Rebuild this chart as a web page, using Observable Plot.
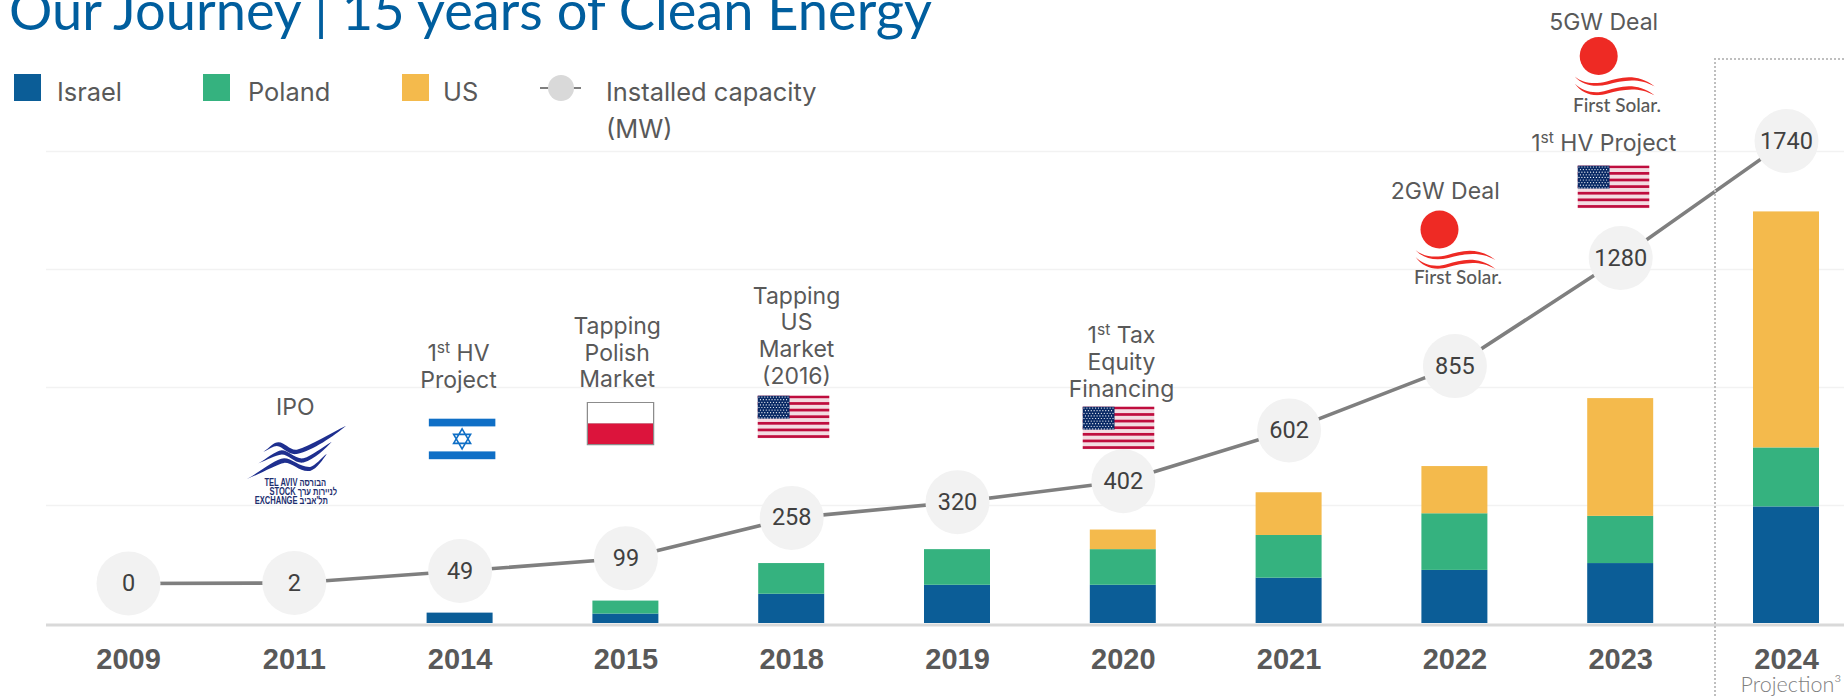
<!DOCTYPE html>
<html>
<head>
<meta charset="utf-8">
<script src="https://cdn.jsdelivr.net/npm/d3@7"></script>
<script src="https://cdn.jsdelivr.net/npm/@observablehq/plot@0.6"></script>
<style>
  html, body { margin: 0; padding: 0; background: #fff; overflow: hidden; }
  #page { position: relative; width: 1844px; height: 697px; overflow: hidden; }
  #title { position: absolute; left: 9px; top: -25px; font: 400 54.2px/70px Lato, sans-serif; color: #005E9E; white-space: nowrap; }
  .leg { position: absolute; font: 400 25.4px/37px Inter, sans-serif; color: #595959; white-space: nowrap; }
  .sw { position: absolute; top: 74px; width: 27px; height: 27px; }
  #projection { position: absolute; left: 1714px; top: 58px; width: 200px; height: 700px; border-left: 2px dotted #BFBFBF; border-top: 2px dotted #BFBFBF; }
  svg { display: block; }
</style>
</head>
<body>
<div id="page">
  <div id="title">Our Journey | 15 years of Clean Energy</div>
  <div class="sw" style="left:14px;background:#0B5D97"></div>
  <div class="leg" style="left:57px;top:73px">Israel</div>
  <div class="sw" style="left:203px;background:#35B27F"></div>
  <div class="leg" style="left:248px;top:73px">Poland</div>
  <div class="sw" style="left:402px;background:#F4BA4C"></div>
  <div class="leg" style="left:443px;top:73px">US</div>
  <div style="position:absolute;left:540px;top:87px;width:41px;height:2px;background:#7F7F7F"></div>
  <div style="position:absolute;left:548px;top:75px;width:26px;height:26px;border-radius:50%;background:#D9D9D9"></div>
  <div class="leg" style="left:606px;top:73px">Installed capacity<br>(MW)</div>
  <div id="projection"></div>
</div>
<script>
const years = ["2009","2011","2014","2015","2018","2019","2020","2021","2022","2023","2024"];
const israel = [0,0,44,40,124,162,162,192,225,254,494];
const poland = [0,0,0,55,130,151,151,181,240,200,250];
const us     = [0,0,0,0,0,0,83,181,200,499,1000];
const capacity = [0,2,49,99,258,320,402,602,855,1280,1740];
const seriesNames = ["Israel","Poland","US"];
const seriesColors = ["#0B5D97","#35B27F","#F4BA4C"];
const gridValues = [500,1000,1500,2000];

const bars = years.flatMap((year,i)=>[
  {year, series:"Israel", value:israel[i]},
  {year, series:"Poland", value:poland[i]},
  {year, series:"US", value:us[i]}
]);
const points = years.map((year,i)=>({year, capacity:capacity[i]}));

// The capacity line is drawn on its own, slightly steeper, axis in the reference.
const lineRatio = 1.0775, lineLift = -40;

const grey = "#595959";
const noteFont = "Inter, sans-serif";
const taseFont = "Liberation Sans, sans-serif";

function svgUri(body, w, h){
  return "data:image/svg+xml;charset=utf-8," + encodeURIComponent(
    `<svg xmlns="http://www.w3.org/2000/svg" viewBox="0 0 ${w} ${h}" width="${w}" height="${h}" preserveAspectRatio="none">${body}</svg>`);
}
function usFlag(){
  let s = `<rect width="72" height="43" fill="#F3DCE2"/>`;
  for (let i=0;i<13;i+=2) s += `<rect y="${i*43/13}" width="72" height="${43/13*0.82}" fill="#BF0D3E"/>`;
  s += `<rect width="32" height="${43*7/13}" fill="#0A2A66"/>`;
  for (let r=0;r<9;r++) for (let c=0;c<(r%2?10:11);c++)
    s += `<circle cx="${1.5+c*2.9+(r%2?1.45:0)}" cy="${1.6+r*2.6}" r="0.62" fill="#fff"/>`;
  return svgUri(s,72,43);
}
function ilFlag(){
  return svgUri(`<rect width="67" height="41" fill="#fff"/><rect y="0" width="67" height="8" fill="#0F6FC6"/><rect y="33" width="67" height="8" fill="#0F6FC6"/>
  <path d="M33.5 10.5 L42 25 L25 25 Z M33.5 30.5 L42 16 L25 16 Z" fill="none" stroke="#0F6FC6" stroke-width="1.6"/>`,67,41);
}
function plFlag(){
  return svgUri(`<rect width="68" height="44" fill="#8C8C8C"/><rect x="1.5" y="1.5" width="65" height="20.5" fill="#fff"/><rect x="1.5" y="22" width="65" height="20.5" fill="#DC143C"/>`,68,44);
}
function firstSolar(){
  const w = "#EE2A24";
  return svgUri(`<circle cx="24" cy="19.5" r="19" fill="${w}"/>
  <path d="M0 40 C8 47 20 48 32 45 C45 41 62 36 80 50 C62 40 46 45 33 48 C20 51 8 49 0 40Z" fill="${w}"/>
  <path d="M0 47 C8 55 20 58 32 54 C45 50 62 45 80 59 C62 49 46 54 33 57 C20 61 8 58 0 47Z" fill="${w}"/>`,80,59);
}
function taseWings(){
  const n = "#1E2F8F";
  return svgUri(`<path d="M50 95 C70 80 80 62 95 62 C115 62 130 92 150 88 C190 75 250 30 298 4 C260 40 200 90 150 103 C125 108 110 78 90 75 C80 75 65 88 50 95Z" fill="${n}"/>
  <path d="M35 135 C60 120 85 92 105 90 C125 90 145 122 170 118 C195 110 225 80 255 60 C235 85 205 120 170 133 C145 138 125 105 105 105 C85 108 60 125 35 135Z" fill="${n}"/>
  <path d="M0 190 C40 165 85 120 112 118 C135 118 160 150 190 148 C205 145 225 115 240 102 C230 120 210 155 190 162 C160 168 135 132 112 134 C90 138 40 172 0 190Z" fill="${n}"/>`,300,192);
}

const FS = 23;
function note(year, text, dx, baseline, opts={}){
  const fs = opts.fontSize ?? FS;
  return Plot.text([year],{
    x:d=>d, text:()=>text, frameAnchor:"top", lineAnchor:"top",
    dx, dy: baseline - 0.71*fs - 2.5, fontSize:fs, lineHeight:opts.lineHeight ?? 1.16,
    fontFamily:opts.fontFamily ?? noteFont, fill:opts.fill ?? grey,
    fontWeight:opts.fontWeight ?? 400, textAnchor:"middle"
  });
}
function icon(year, src, dx, cy, width, height){
  return Plot.image([year],{x:d=>d, src:()=>src, frameAnchor:"top", dx, dy:cy, width, height, preserveAspectRatio:"none"});
}

const taseOpts = {fontSize:10.5, fontWeight:700, fill:"#1E2F6F", fontFamily:taseFont};

const plot = Plot.plot({
  width:1844, height:697,
  marginLeft:46, marginRight:0, marginTop:0, marginBottom:74,
  style:{background:"#fff", overflow:"hidden"},
  x:{type:"band", domain:years, range:[45.1,1868.9], paddingInner:0.602, paddingOuter:0.301, round:false, label:null},
  y:{domain:[0,2000], range:[623,151], axis:null},
  color:{domain:seriesNames, range:seriesColors},
  marks:[
    Plot.ruleY(gridValues,{stroke:"#F2F2F2", strokeWidth:1.5}),
    Plot.barY(bars,{x:"year", y:"value", fill:"series"}),
    Plot.ruleY([0],{stroke:"#D9D9D9", strokeWidth:3, dy:1.5}),
    Plot.line(points,{x:"year", y:d=>d.capacity*lineRatio, stroke:"#7F7F7F", strokeWidth:3.6, dy:lineLift}),
    Plot.dot(points,{x:"year", y:d=>d.capacity*lineRatio, r:32, fill:"#F2F2F2", dy:lineLift}),
    Plot.text(points,{x:"year", y:d=>d.capacity*lineRatio, text:d=>String(d.capacity), dy:lineLift, fontSize:23.5, fontWeight:400, fontFamily:"Roboto, sans-serif", fill:"#404040"}),
    Plot.axisX({anchor:"bottom", tickSize:0, tickPadding:25, fontSize:29, fontWeight:700, fontFamily:"Liberation Sans, sans-serif", fill:grey, label:null}),

    note("2011","IPO",1,414),
    icon("2011",taseWings(),2.5,451.5,100,55),
    note("2011","TEL AVIV הבורסה",1,487,taseOpts),
    note("2011","STOCK לניירות ערך",9,496,taseOpts),
    note("2011","EXCHANGE תל'אביב",-3,505,taseOpts),

    note("2014","1st HV\nProject",-1.6,360.7),
    icon("2014",ilFlag(),2,438.4,67,41),

    note("2015","Tapping\nPolish\nMarket",-8.7,333.5),
    icon("2015",plFlag(),-5.4,423,68,44),

    note("2018","Tapping\nUS\nMarket\n(2016)",4.8,303),
    icon("2018",usFlag(),1.8,416.5,72,43),

    note("2020","1st Tax\nEquity\nFinancing",-1.8,342.7),
    icon("2020",usFlag(),-4.8,427.5,72,43),

    note("2022","2GW Deal",-9.6,198),
    icon("2022",firstSolar(),0.6,239,80,59),
    note("2022","First Solar.",3,284,{fontSize:19,fontWeight:500,fontFamily:"Lato, sans-serif"}),

    note("2023","5GW Deal",-17,29),
    icon("2023",firstSolar(),-6,65.5,80,59),
    note("2023","First Solar.",-3.7,111.7,{fontSize:19,fontWeight:500,fontFamily:"Lato, sans-serif"}),
    note("2023","1st HV Project",-17,150),
    icon("2023",usFlag(),-7.2,186.4,72,43),

    note("2024","Projection³",4.5,692,{fontSize:21.5,fill:"#7F7F7F",fontFamily:"Lato, sans-serif",fontWeight:300})
  ]
});

// Raise the "st" of every "1st" label.
const NS = "http://www.w3.org/2000/svg";
plot.querySelectorAll("text, tspan").forEach(el=>{
  if (el.childNodes.length===1 && el.firstChild.nodeType===3 && el.textContent.startsWith("1st")) {
    const rest = el.textContent.slice(3);
    el.textContent = "1";
    const sup = document.createElementNS(NS,"tspan");
    sup.setAttribute("font-size","0.68em"); sup.setAttribute("dy","-0.5em"); sup.textContent="st";
    const tail = document.createElementNS(NS,"tspan");
    tail.setAttribute("dy","0.34em"); tail.textContent=rest;
    el.append(sup,tail);
  }
});
// The exchange's wordmark is set in tall, condensed letters.
plot.querySelectorAll("text").forEach(el=>{
  if (/^(TEL AVIV|STOCK|EXCHANGE)/.test(el.textContent)) {
    el.setAttribute("transform",(el.getAttribute("transform")||"")+" scale(0.72,1)");
  }
});

const page = document.getElementById("page");
page.insertBefore(plot, page.firstChild);
</script>
</body>
</html>
